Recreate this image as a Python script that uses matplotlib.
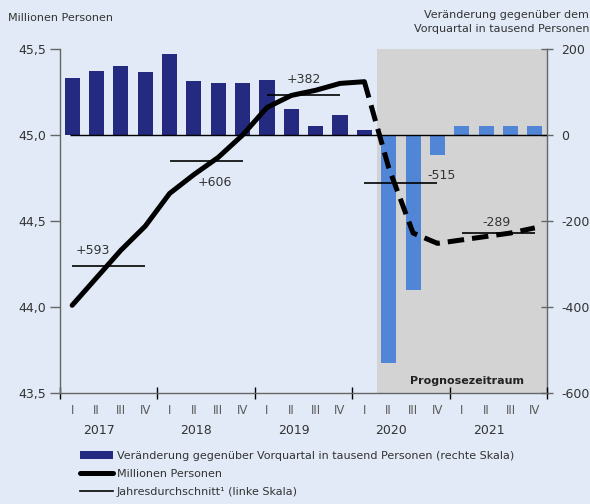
import matplotlib
matplotlib.use("Agg")
import matplotlib.pyplot as plt
from matplotlib.patches import Patch
from matplotlib.lines import Line2D
from matplotlib.transforms import blended_transform_factory

plt.rcParams['font.family'] = ['DejaVu Sans']

# ---- data ----
years = ["2017", "2018", "2019", "2020", "2021"]
quarters = ["I", "II", "III", "IV"]
# change vs previous quarter, thousand persons (right scale)
changes_hist = [133, 149, 160, 147, 188, 126, 121, 121, 128, 60, 21, 47, 12]
changes_fc = [-531, -360, -47, 21, 21, 21, 21]
# employed persons, millions (left scale)
persons_hist = [44.01, 44.17, 44.33, 44.47, 44.66, 44.77, 44.87, 45.00,
                45.16, 45.23, 45.26, 45.30, 45.31]
persons_fc = [45.31, 44.81, 44.43, 44.37, 44.39, 44.41, 44.43, 44.46]
# annual averages (left scale) and their labels (change in thousand)
annual_avg = [44.24, 44.85, 45.23, 44.72, 44.43]
annual_labels = ["+593", "+606", "+382", "-515", "-289"]

navy = "#242a80"
lightblue = "#5185d5"
bg = "#e1eaf6"
shade = "#d3d3d3"
axcol = "#666666"
txtcol = "#333333"

fig = plt.figure(figsize=(5.9, 5.04), dpi=100, facecolor=bg)
left, right = 60 / 590, 547 / 590
bottom, top = 1 - 393 / 504, 1 - 49 / 504
ax = fig.add_axes([left, bottom, right - left, top - bottom])
ax2 = ax.twinx()
ax.set_zorder(ax2.get_zorder() + 1)
ax.patch.set_visible(False)
ax2.set_facecolor(bg)

n = len(quarters) * len(years)
x = list(range(n))
nh = len(changes_hist)

# bars on right scale
ax2.axvspan(nh - 0.5, n - 0.5, color=shade, zorder=0, lw=0)
ax2.bar(x[:nh], changes_hist, width=0.62, color=navy, zorder=2)
ax2.bar(x[nh:], changes_fc, width=0.62, color=lightblue, zorder=2)
ax2.hlines(0, -0.1, n - 0.5, color="black", lw=1.0, zorder=3)
ax2.set_ylim(-600, 200)
ax2.set_yticks([200, 0, -200, -400, -600])
ax2.set_yticklabels(["200", "0", "-200", "-400", "-600"])

# line on left scale
ax.plot(x[:nh], persons_hist, color="black", lw=3.6, solid_capstyle="round",
        solid_joinstyle="round", zorder=5)
ax.plot(x[nh - 1:], persons_fc, color="black", lw=3.6, linestyle=(0, (3.3, 1.6)),
        dash_capstyle="butt", zorder=5)

# annual averages
offsets = [(-16, 15), (9, -22), (0, 16), (41, 8), (-2, 11)]
for i, (v, lab) in enumerate(zip(annual_avg, annual_labels)):
    x0, x1 = 4 * i, 4 * i + 3
    ax.hlines(v, x0, x1, color="black", lw=1.2, zorder=4)
    dx, dy = offsets[i]
    ax.annotate(lab, xy=((x0 + x1) / 2, v), xytext=(dx * 0.72, dy * 0.72),
                textcoords="offset points", ha="center", va="center",
                fontsize=9, color=txtcol, zorder=6)

ax.set_xlim(-0.5, n - 0.5)
ax.set_ylim(43.5, 45.5)
ax.set_yticks([43.5, 44.0, 44.5, 45.0, 45.5])
ax.set_yticklabels(["43,5", "44,0", "44,5", "45,0", "45,5"])

# spines / ticks
for a in (ax, ax2):
    a.spines["top"].set_visible(False)
    for s in ("left", "right", "bottom"):
        a.spines[s].set_color(axcol)
        a.spines[s].set_linewidth(1.0)
ax.spines["right"].set_visible(False)
ax2.spines["left"].set_visible(False)
ax2.spines["bottom"].set_visible(False)

ax.tick_params(axis="y", direction="out", length=7, width=1, color=axcol,
               labelsize=9, labelcolor=txtcol, pad=3)
ax2.tick_params(axis="y", direction="inout", length=9, width=1, color=axcol,
                labelsize=9, labelcolor=txtcol, pad=6)

major = [4 * i - 0.5 for i in range(len(years) + 1)]
ax.set_xticks(major)
ax.set_xticklabels([""] * len(major))
ax.tick_params(axis="x", which="major", direction="inout", length=9, width=1,
               color="black")
ax.set_xticks(x, minor=True)
ax.set_xticklabels(quarters * len(years), minor=True)
ax.tick_params(axis="x", which="minor", length=0, labelsize=8.5,
               labelcolor="#5a5a5a", pad=8)

trans = blended_transform_factory(ax.transData, fig.transFigure)
for i, y in enumerate(years):
    ax.text(4 * i + 1.1, 1 - 430 / 504, y, transform=trans, ha="center",
            va="center", fontsize=9, color=txtcol)

ax.text(16.2, 0.035, "Prognosezeitraum", ha="center", va="center",
        fontsize=8, fontweight="bold", color="#222222",
        transform=blended_transform_factory(ax.transData, ax.transAxes))

# titles
fig.text(8 / 590, 1 - 18 / 504, "Millionen Personen", ha="left", va="center",
         fontsize=8, color=txtcol)
fig.text(589 / 590, 1 - 22 / 504, "Veränderung gegenüber dem\nVorquartal in tausend Personen",
         ha="right", va="center", fontsize=8, color=txtcol, linespacing=1.5)

handles = [Patch(facecolor=navy, edgecolor="none"),
           Line2D([], [], color="black", lw=3.6, solid_capstyle="round"),
           Line2D([], [], color="black", lw=1.2)]
labels = ["Veränderung gegenüber Vorquartal in tausend Personen (rechte Skala)",
          "Millionen Personen",
          "Jahresdurchschnitt¹ (linke Skala)"]
leg = fig.legend(handles, labels, loc="upper left",
                 bbox_to_anchor=(80 / 590, 1 - 451 / 504), frameon=False,
                 fontsize=8, handlelength=3.0, handletextpad=0.3,
                 labelspacing=0.72, borderpad=0, borderaxespad=0)
for t in leg.get_texts():
    t.set_color(txtcol)

fig.savefig("out.png", dpi=100, facecolor=bg)
